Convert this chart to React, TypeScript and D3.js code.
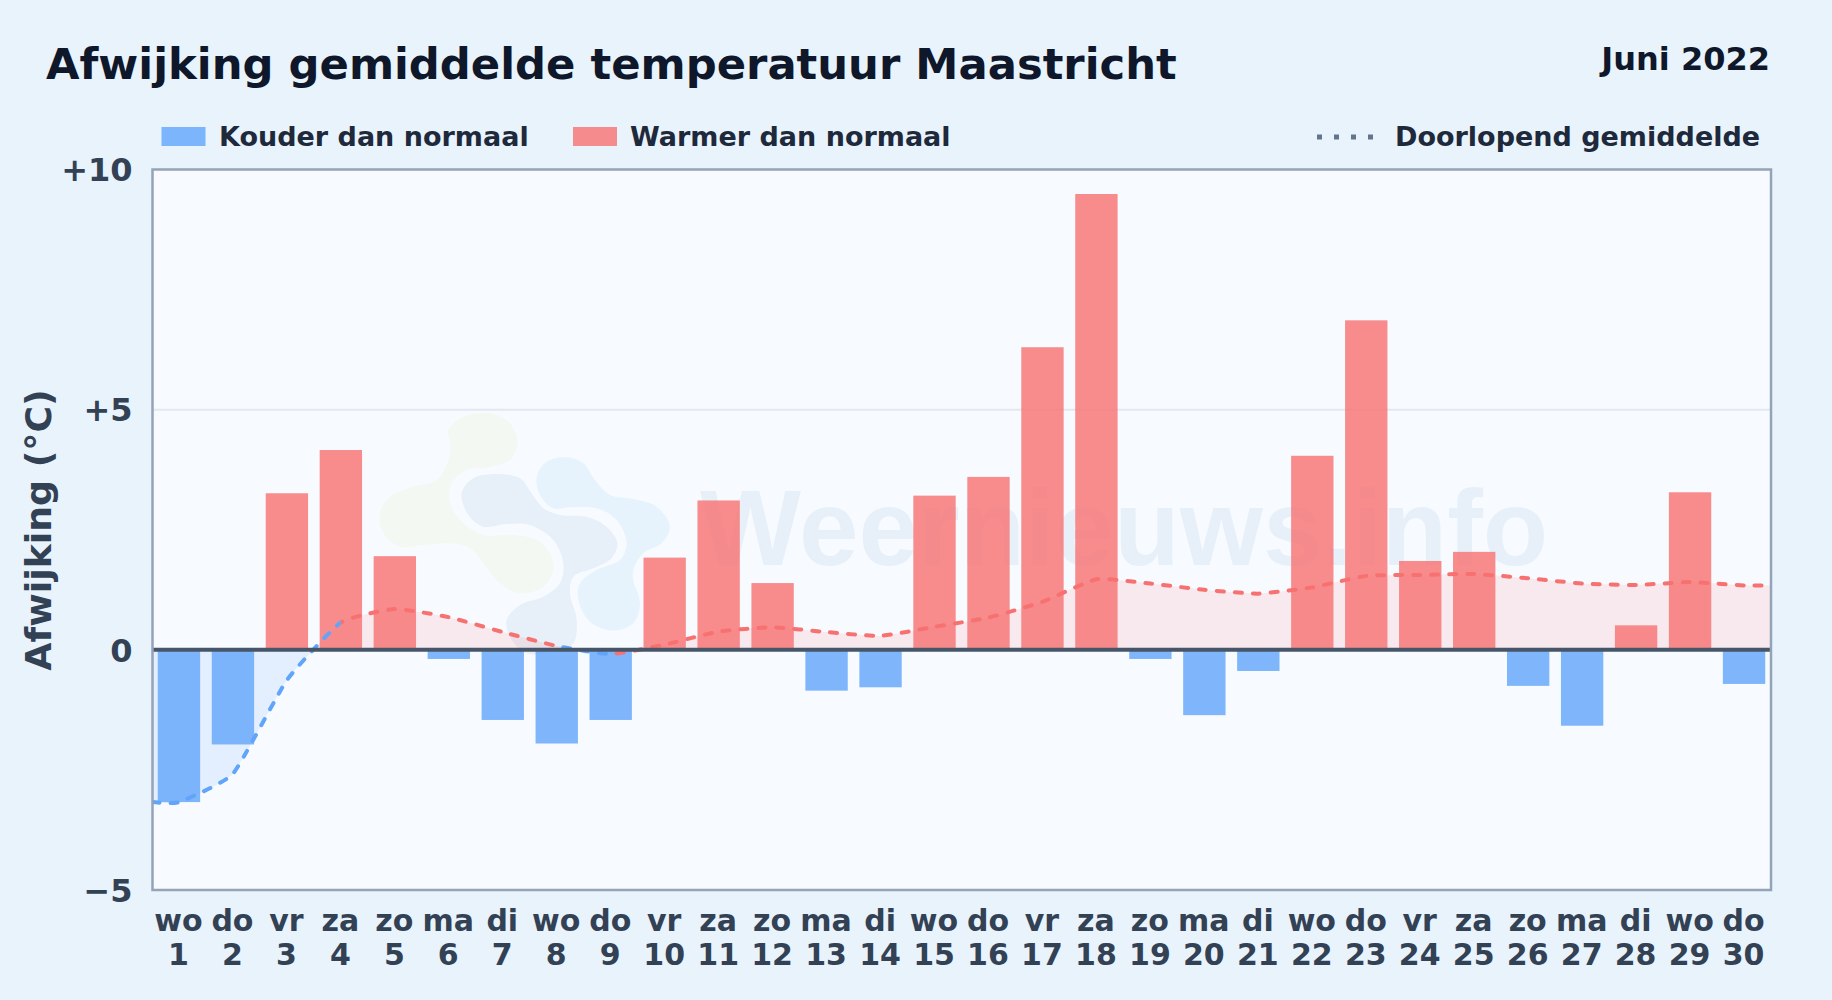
import React, { useRef, useEffect } from 'react';
import * as d3 from 'd3';

const weekdays = ['wo', 'do', 'vr', 'za', 'zo', 'ma', 'di', 'wo', 'do', 'vr', 'za', 'zo', 'ma', 'di', 'wo', 'do', 'vr', 'za', 'zo', 'ma', 'di', 'wo', 'do', 'vr', 'za', 'zo', 'ma', 'di', 'wo', 'do'];
const days = d3.range(1, 31);
const deviations = [-3.17, -1.97, 3.26, 4.16, 1.95, -0.19, -1.46, -1.95, -1.46, 1.92, 3.11, 1.39, -0.85, -0.78, 3.21, 3.6, 6.3, 9.49, -0.19, -1.36, -0.44, 4.04, 6.86, 1.85, 2.04, -0.75, -1.58, 0.51, 3.28, -0.71];
const runningMean = [-3.17, -2.58, -0.63, 0.57, 0.85, 0.68, 0.37, 0.08, -0.09, 0.11, 0.38, 0.47, 0.37, 0.29, 0.48, 0.67, 1.0, 1.47, 1.38, 1.25, 1.17, 1.3, 1.54, 1.56, 1.58, 1.49, 1.38, 1.35, 1.41, 1.34];
const yTicks = [-5, 0, 5, 10];
const yTickLabels = ['−5', '0', '+5', '+10'];
// day ranges where the line is drawn blue, the rest is red
const coldLineRanges = [[0, 4], [8, 9]];

// logo blobs, traced from the watermark (drawn at 1/3 scale)
const logoGreen = [[325, 150], [370, 110], [450, 100], [510, 130], [533, 190], [510, 240], [440, 262], [380, 270], [335, 310], [330, 370], [370, 430], [430, 465], [520, 465], [590, 480], [630, 520], [640, 570], [610, 620], [540, 640], [480, 610], [430, 550], [390, 505], [330, 490], [250, 495], [180, 500], [130, 460], [120, 400], [150, 350], [220, 320], [290, 300], [325, 240], [330, 190]];
const logoNavy = [[365, 340], [400, 295], [470, 282], [540, 295], [575, 340], [610, 385], [660, 405], [740, 410], [800, 440], [832, 490], [815, 535], [760, 565], [700, 590], [690, 640], [710, 720], [700, 790], [640, 815], [560, 820], [510, 770], [500, 720], [540, 675], [610, 650], [660, 610], [670, 550], [640, 480], [570, 435], [500, 432], [430, 440], [385, 405]];
const logoBlue = [[590, 290], [620, 245], [680, 232], [730, 250], [765, 300], [810, 345], [880, 357], [950, 380], [990, 440], [965, 490], [910, 520], [880, 570], [880, 600], [900, 670], [880, 730], [820, 752], [750, 725], [715, 660], [720, 610], [770, 570], [840, 540], [860, 490], [830, 420], [770, 385], [690, 382], [640, 385], [600, 345]];

const COLD = '#60a5fa';
const WARM = '#f87171';
const FONT = '"DejaVu Sans", sans-serif';

const App: React.FC = () => {
  const svgRef = useRef<SVGSVGElement | null>(null);

  useEffect(() => {
    if (!svgRef.current) return;
    const margin = { top: 169.5, right: 61, bottom: 110, left: 152.5 };
    const width = 1832;
    const height = 1000;

    const x = d3.scaleBand<number>()
      .domain(days)
      .range([margin.left - 0.5, width - margin.right])
      .paddingInner(0.215)
      .paddingOuter(0.107);
    const y = d3.scaleLinear().domain([-5, 10]).range([height - margin.bottom, margin.top]);
    const cx = (d: number) => (x(d) as number) + x.bandwidth() / 2;

    const svg = d3.select(svgRef.current);
    svg.selectAll('*').remove();

    svg.append('rect').attr('width', width).attr('height', height).attr('fill', '#e8f3fc');

    // title + legend
    svg.append('text').attr('x', 46).attr('y', 79).attr('font-size', 43.3).attr('font-weight', 700).attr('fill', '#0f172a')
      .text('Afwijking gemiddelde temperatuur Maastricht');
    svg.append('text').attr('x', 1770).attr('y', 70).attr('text-anchor', 'end').attr('font-size', 32).attr('font-weight', 700).attr('fill', '#0f172a')
      .text('Juni 2022');

    const legendItems = [
      { label: 'Kouder dan normaal', colour: COLD, swatch: 161.5, text: 219 },
      { label: 'Warmer dan normaal', colour: WARM, swatch: 573, text: 630 },
    ];
    legendItems.forEach(item => {
      svg.append('rect').attr('x', item.swatch).attr('y', 127).attr('width', 44).attr('height', 19).attr('fill', item.colour).attr('fill-opacity', 0.8);
      svg.append('text').attr('x', item.text).attr('y', 146).attr('font-size', 27).attr('font-weight', 700).attr('fill', '#1e293b').text(item.label);
    });
    svg.append('line').attr('x1', 1317).attr('x2', 1375).attr('y1', 137).attr('y2', 137)
      .attr('stroke', '#64748b').attr('stroke-width', 5).attr('stroke-dasharray', '5 12');
    svg.append('text').attr('x', 1395).attr('y', 146).attr('font-size', 27).attr('font-weight', 700).attr('fill', '#1e293b')
      .text('Doorlopend gemiddelde');

    // plot background
    svg.append('rect')
      .attr('x', margin.left).attr('y', margin.top)
      .attr('width', width - margin.left - margin.right)
      .attr('height', height - margin.top - margin.bottom)
      .attr('fill', '#f7fbff');

    // grid, only +5 shows
    svg.append('line').attr('x1', margin.left).attr('x2', width - margin.right).attr('y1', y(5)).attr('y2', y(5))
      .attr('stroke', '#e2e8f0').attr('stroke-width', 2);

    // watermark
    const blob = d3.line().curve(d3.curveCatmullRomClosed.alpha(0.5));
    const logo = svg.append('g').attr('transform', 'translate(340,380) scale(0.3333)');
    logo.append('path').attr('d', blob(logoGreen as [number, number][])).attr('fill', '#f3f8f2');
    logo.append('path').attr('d', blob(logoNavy as [number, number][])).attr('fill', '#e7eff8');
    logo.append('path').attr('d', blob(logoBlue as [number, number][])).attr('fill', '#e6f3fd');
    svg.append('text').attr('x', 700).attr('y', 565).attr('font-family', '"Liberation Sans", sans-serif').attr('font-size', 107)
      .attr('font-weight', 700).attr('fill', '#e7f0f9').text('Weernieuws.info');

    // clip paths for line and area
    const defs = svg.append('defs');
    const plotW = width - margin.left - margin.right;
    defs.append('clipPath').attr('id', 'above').append('rect')
      .attr('x', margin.left).attr('width', plotW).attr('y', margin.top).attr('height', y(0) - margin.top);
    defs.append('clipPath').attr('id', 'below').append('rect')
      .attr('x', margin.left).attr('width', plotW).attr('y', y(0)).attr('height', height - margin.bottom - y(0));
    const coldClip = defs.append('clipPath').attr('id', 'coldLine');
    const warmClip = defs.append('clipPath').attr('id', 'warmLine');
    const xAt = (d: number) => (d === 0 ? margin.left : cx(d));
    let warmStart = margin.left;
    coldLineRanges.forEach(([a, b]) => {
      coldClip.append('rect').attr('x', xAt(a)).attr('width', xAt(b) - xAt(a)).attr('y', 0).attr('height', height);
      if (xAt(a) > warmStart) warmClip.append('rect').attr('x', warmStart).attr('width', xAt(a) - warmStart).attr('y', 0).attr('height', height);
      warmStart = xAt(b);
    });
    warmClip.append('rect').attr('x', warmStart).attr('width', width - margin.right - warmStart).attr('y', 0).attr('height', height);

    // running mean runs on flat to the plot edges
    const meanPoints: [number, number][] = [
      [margin.left, runningMean[0]],
      ...days.map((d, i) => [cx(d), runningMean[i]] as [number, number]),
      [width - margin.right, runningMean[runningMean.length - 1]],
    ];
    const curve = d3.curveCardinal.tension(0.55);
    const area = d3.area<[number, number]>().x(d => d[0]).y0(y(0)).y1(d => y(d[1])).curve(curve);
    svg.append('path').attr('d', area(meanPoints)).attr('fill', WARM).attr('fill-opacity', 0.13).attr('clip-path', 'url(#above)');
    svg.append('path').attr('d', area(meanPoints)).attr('fill', COLD).attr('fill-opacity', 0.13).attr('clip-path', 'url(#below)');

    // bars
    svg.selectAll('rect.bar')
      .data(days)
      .enter().append('rect')
      .attr('class', 'bar')
      .attr('x', d => x(d) as number)
      .attr('width', x.bandwidth())
      .attr('y', (d, i) => y(Math.max(deviations[i], 0)))
      .attr('height', (d, i) => Math.abs(y(deviations[i]) - y(0)))
      .attr('fill', (d, i) => (deviations[i] < 0 ? COLD : WARM))
      .attr('fill-opacity', 0.8);

    // line
    const line = d3.line<[number, number]>().x(d => d[0]).y(d => y(d[1])).curve(curve);
    [{ clip: 'coldLine', colour: COLD }, { clip: 'warmLine', colour: WARM }].forEach(s => {
      svg.append('g').attr('clip-path', `url(#${s.clip})`).append('path')
        .attr('d', line(meanPoints))
        .attr('fill', 'none')
        .attr('stroke', s.colour)
        .attr('stroke-width', 4)
        .attr('stroke-linecap', 'round')
        .attr('stroke-dasharray', '7 11');
    });

    // zero line + frame
    svg.append('line').attr('x1', margin.left).attr('x2', width - margin.right).attr('y1', y(0)).attr('y2', y(0))
      .attr('stroke', '#475569').attr('stroke-width', 4);
    svg.append('rect')
      .attr('x', margin.left).attr('y', margin.top)
      .attr('width', plotW)
      .attr('height', height - margin.top - margin.bottom)
      .attr('fill', 'none').attr('stroke', '#94a3b8').attr('stroke-width', 2.5);

    // axes
    const yAxis = svg.append('g')
      .attr('transform', `translate(${margin.left},1)`)
      .call(d3.axisLeft(y).tickValues(yTicks).tickSize(0).tickPadding(20).tickFormat((d, i) => yTickLabels[i]));
    yAxis.select('.domain').remove();
    yAxis.selectAll('text').attr('font-family', FONT).attr('font-size', 32).attr('font-weight', 700).attr('fill', '#334155');

    const xAxis = svg.append('g')
      .attr('transform', `translate(-0.5,${height - margin.bottom})`)
      .call(d3.axisBottom(x).tickSize(0).tickFormat(() => ''));
    xAxis.select('.domain').remove();
    xAxis.selectAll<SVGTextElement, number>('text').each(function (d, i) {
      const t = d3.select(this).attr('y', 0).attr('dy', null).attr('font-family', FONT).attr('font-size', 30).attr('font-weight', 700).attr('fill', '#334155');
      t.append('tspan').attr('x', 0).attr('y', 41).text(weekdays[i]);
      t.append('tspan').attr('x', 0).attr('y', 75).text(d);
    });

    svg.append('text')
      .attr('transform', `translate(51,530) rotate(-90)`)
      .attr('text-anchor', 'middle')
      .attr('font-size', 36.3).attr('font-weight', 700).attr('fill', '#334155')
      .text('Afwijking (°C)');
  }, []);

  return (
    <svg
      ref={svgRef}
      width={1832}
      height={1000}
      style={{ position: 'absolute', left: 0, top: 0, display: 'block', fontFamily: FONT }}
    />
  );
};

export default App;
